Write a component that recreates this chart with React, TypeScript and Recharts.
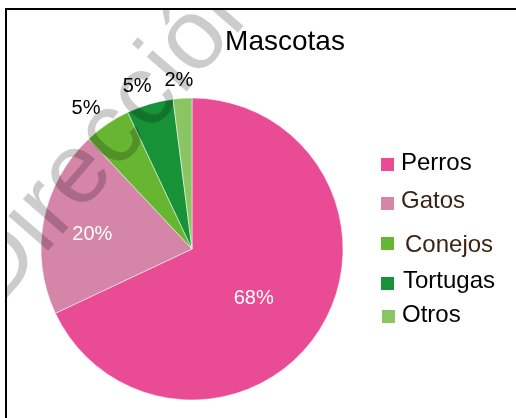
import React from 'react';
import { PieChart, Pie, Cell, Legend } from 'recharts';

const categories = ['Perros', 'Gatos', 'Conejos', 'Tortugas', 'Otros'];
const values = [68, 20, 5, 5, 2];
const sliceColors = ['#E94C94', '#D485A8', '#66B632', '#179237', '#8BC563'];
const titleText = 'Mascotas';
const watermarkText = 'Dirección';

const data = categories.map((name, i) => ({ name, value: values[i] }));

// styling / layout
const W = 511;
const H = 410;
const FONT = '"Liberation Sans", Arial, Helvetica, sans-serif';
const labelRadius = [78, 101, 177, 173, 171];
const labelAngleShift = [-5.3, 1.4, 2.6, 2.3, 0.8];
const labelFill = ['#ffffff', '#ffffff', '#000000', '#000000', '#000000'];
const legendSquareX = [376, 376, 376, 376, 377];
const legendSquareY = [150, 189, 229, 269, 302];
const legendTextX = [396, 396, 400, 398, 397];
const legendTextY = [162, 200, 244, 280, 314];
const legendTextColor = ['#000000', '#3b2314', '#3b2314', '#000000', '#000000'];

const RAD = Math.PI / 180;

const renderLabel = (props: any) => {
  const { cx, cy, midAngle, percent, index } = props;
  const a = (midAngle + labelAngleShift[index]) * RAD;
  const r = labelRadius[index];
  const x = cx + r * Math.cos(-a);
  const y = cy + r * Math.sin(-a);
  return (
    <text
      x={x}
      y={y + 7}
      textAnchor="middle"
      fill={labelFill[index]}
      fontSize={20}
      fontFamily={FONT}
    >
      {`${Math.round(percent * 100)}%`}
    </text>
  );
};

const renderLegend = (props: any) => {
  const payload = [...(props.payload || [])].sort(
    (a: any, b: any) => categories.indexOf(a.value) - categories.indexOf(b.value)
  );
  return (
    <svg width={W} height={H} style={{ display: 'block' }}>
      {payload.map((item: any, i: number) => (
        <g key={`lg-${i}`}>
          <rect x={legendSquareX[i]} y={legendSquareY[i]} width={13} height={13} fill={item.color} />
          <text
            x={legendTextX[i]}
            y={legendTextY[i]}
            fontSize={24}
            fontFamily={FONT}
            fill={legendTextColor[i]}
          >
            {item.value}
          </text>
        </g>
      ))}
    </svg>
  );
};

export default function App() {
  return (
    <div style={{ position: 'fixed', left: 5, top: 8, width: W, height: H, overflow: 'hidden' }}>
      <div style={{ position: 'absolute', left: 0, top: 0 }}>
        <PieChart width={W} height={H} margin={{ top: 0, right: 0, bottom: 0, left: 0 }}>
          <text x={280} y={42} textAnchor="middle" fontSize={28} fontFamily={FONT} fill="#000">
            {titleText}
          </text>
          <Pie
            data={data}
            dataKey="value"
            nameKey="name"
            cx={187}
            cy={241}
            outerRadius={151}
            startAngle={90}
            endAngle={-270}
            stroke="#ffffff"
            strokeWidth={0.5}
            label={renderLabel}
            labelLine={false}
            isAnimationActive={false}
          >
            {data.map((d, i) => (
              <Cell key={d.name} fill={sliceColors[i]} />
            ))}
          </Pie>
          <Legend
            content={renderLegend}
            wrapperStyle={{ position: 'absolute', left: 0, top: 0, width: W, height: H, pointerEvents: 'none' }}
          />
        </PieChart>
      </div>
      <svg
        width={W}
        height={H}
        style={{ position: 'absolute', left: 0, top: 0, pointerEvents: 'none' }}
      >
        <line x1={0} y1={1} x2={W} y2={1} stroke="#000" strokeWidth={2} />
        <line x1={1} y1={0} x2={1} y2={H} stroke="#000" strokeWidth={2} />
        <text
          x={128}
          y={145}
          textAnchor="middle"
          fontSize={100}
          fontFamily={FONT}
          fill="#000"
          fillOpacity={0.2}
          transform="rotate(-49 128 145)"
        >
          {watermarkText}
        </text>
      </svg>
    </div>
  );
}
